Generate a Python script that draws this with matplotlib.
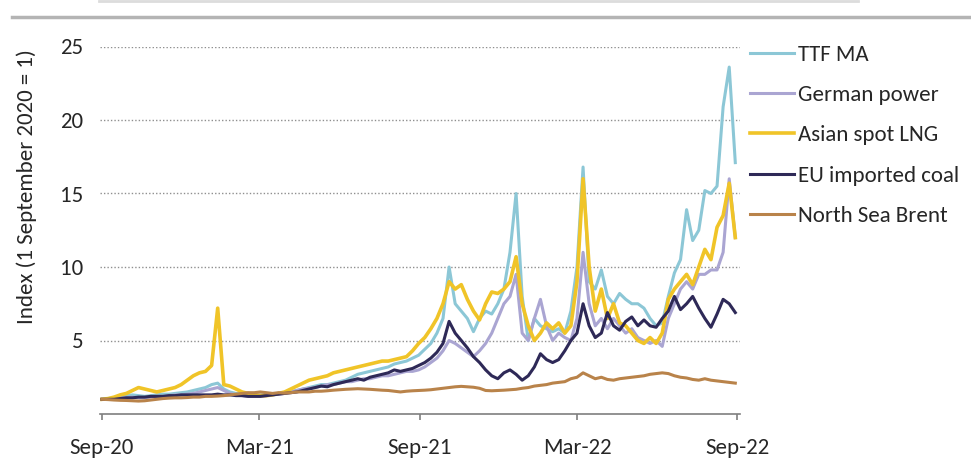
import matplotlib
matplotlib.use('Agg')
import matplotlib.pyplot as plt
import pandas as pd
from matplotlib import font_manager
from matplotlib.lines import Line2D

# ---- data (weekly, index 1 Sep 2020 = 1) ----
weeks = pd.date_range('2020-09-01', periods=105, freq='7D')

ttf_ma = [1.0, 1.05, 1.1, 1.2, 1.25, 1.3, 1.25, 1.2, 1.25, 1.3, 1.35, 1.35, 1.4,
          1.45, 1.5, 1.6, 1.7, 1.8, 2.0, 2.1, 1.7, 1.5, 1.4, 1.35, 1.3, 1.3,
          1.3, 1.3, 1.35, 1.4, 1.45, 1.5, 1.6, 1.7, 1.8, 1.9, 2.0, 2.0, 2.1,
          2.2, 2.3, 2.5, 2.7, 2.8, 2.9, 3.0, 3.1, 3.2, 3.4, 3.5, 3.6, 3.8,
          4.0, 4.4, 4.8, 5.5, 6.5, 10.0, 7.5, 7.0, 6.5, 5.6, 6.5, 7.0, 6.8,
          7.5, 8.5, 11.0, 15.0, 8.0, 5.0, 6.5, 6.0, 5.8, 5.6, 5.8, 5.5, 7.0,
          10.0, 16.8, 9.0, 8.5, 9.8, 8.0, 7.5, 8.2, 7.8, 7.5, 7.5, 7.2, 6.5,
          6.0, 6.2, 8.0, 9.6, 10.5, 13.9, 11.8, 12.5, 15.2, 15.0, 15.5, 20.9, 23.6, 17.1]

german_power = [1.0, 1.0, 1.05, 1.1, 1.1, 1.15, 1.1, 1.1, 1.15, 1.2, 1.2, 1.25, 1.3,
                1.3, 1.35, 1.4, 1.5, 1.6, 1.7, 1.8, 1.6, 1.4, 1.3, 1.25, 1.2, 1.2,
                1.2, 1.25, 1.3, 1.35, 1.4, 1.5, 1.6, 1.7, 1.75, 1.8, 1.9, 2.0, 2.0,
                2.1, 2.2, 2.2, 2.3, 2.4, 2.4, 2.5, 2.6, 2.6, 2.7, 2.8, 2.9, 2.9,
                3.0, 3.2, 3.5, 3.8, 4.3, 5.0, 4.8, 4.5, 4.2, 3.9, 4.3, 4.8, 5.5,
                6.5, 7.5, 8.0, 9.5, 5.5, 5.0, 6.5, 7.8, 6.0, 5.0, 5.5, 5.2, 5.0,
                6.5, 11.0, 7.5, 6.0, 6.5, 5.8, 6.5, 6.0, 5.5, 5.8, 5.2, 5.0, 4.8,
                5.0, 4.6, 6.5, 7.5, 8.5, 9.0, 8.5, 9.5, 9.5, 9.8, 9.8, 11.0, 16.0, 12.0]

asian_lng = [1.0, 1.05, 1.15, 1.3, 1.4, 1.6, 1.8, 1.7, 1.6, 1.5, 1.6, 1.7, 1.8,
             2.0, 2.3, 2.6, 2.8, 2.9, 3.3, 7.2,
             2.0, 1.9, 1.7, 1.5, 1.4, 1.3,
             1.25, 1.25, 1.3, 1.4, 1.5, 1.7, 1.9, 2.1, 2.3, 2.4, 2.5, 2.6, 2.8,
             2.9, 3.0, 3.1, 3.2, 3.3, 3.4, 3.5, 3.6, 3.6, 3.7, 3.8, 3.9, 4.3,
             4.8, 5.2, 5.8, 6.5, 7.5, 9.0, 8.5, 8.8, 7.8, 7.0, 6.4, 7.5, 8.3,
             8.2, 8.5, 9.0, 10.7, 7.5, 6.0, 5.0, 5.5, 6.2, 5.8, 6.2, 5.5, 6.0,
             9.0, 16.0, 10.0, 7.0, 8.5, 6.5, 7.5, 6.2, 6.0, 5.5, 5.0, 4.8, 5.2,
             4.8, 5.5, 7.8, 8.5, 9.0, 9.5, 8.8, 10.0, 11.2, 10.5, 12.7, 13.5, 15.7, 12.0]

eu_coal = [1.0, 1.0, 1.0, 1.05, 1.1, 1.1, 1.15, 1.15, 1.2, 1.2, 1.2, 1.25, 1.25,
           1.3, 1.3, 1.3, 1.3, 1.3, 1.3, 1.35, 1.3, 1.3, 1.25, 1.25, 1.2, 1.2,
           1.2, 1.25, 1.3, 1.35, 1.4, 1.45, 1.5, 1.6, 1.7, 1.8, 1.9, 1.85, 2.0,
           2.1, 2.2, 2.3, 2.4, 2.3, 2.5, 2.6, 2.7, 2.8, 3.0, 2.9, 3.0, 3.1,
           3.3, 3.5, 3.8, 4.2, 4.8, 6.3, 5.5, 5.0, 4.5, 3.9, 3.5, 3.0, 2.6,
           2.4, 2.8, 3.0, 2.7, 2.3, 2.6, 3.2, 4.1, 3.7, 3.5, 3.7, 4.3, 5.0,
           5.5, 7.5, 6.0, 5.2, 5.5, 6.9, 6.0, 5.7, 6.3, 6.6, 6.0, 6.4, 6.0,
           5.9, 6.5, 7.0, 8.0, 7.1, 7.5, 8.0, 7.2, 6.5, 5.9, 6.8, 7.8, 7.5, 6.9]

brent = [1.0, 0.98, 0.95, 0.93, 0.92, 0.9, 0.88, 0.9, 0.95, 1.0, 1.05, 1.08, 1.1,
         1.1, 1.12, 1.15, 1.15, 1.2, 1.2, 1.22, 1.25, 1.3, 1.35, 1.4, 1.45, 1.45,
         1.5, 1.45, 1.4, 1.45, 1.42, 1.45, 1.5, 1.5, 1.5, 1.55, 1.55, 1.58, 1.62,
         1.65, 1.68, 1.7, 1.72, 1.7, 1.68, 1.65, 1.62, 1.6, 1.55, 1.5, 1.55, 1.58,
         1.6, 1.62, 1.65, 1.7, 1.75, 1.8, 1.85, 1.88, 1.85, 1.82, 1.75, 1.6, 1.58,
         1.6, 1.62, 1.65, 1.68, 1.75, 1.8, 1.9, 1.95, 2.0, 2.1, 2.15, 2.2, 2.4,
         2.5, 2.8, 2.6, 2.4, 2.5, 2.35, 2.3, 2.4, 2.45, 2.5, 2.55, 2.6, 2.7,
         2.75, 2.8, 2.75, 2.6, 2.5, 2.45, 2.35, 2.3, 2.4, 2.3, 2.25, 2.2, 2.15, 2.1]

tick_dates = pd.to_datetime(['2020-09-01', '2021-03-01', '2021-09-01', '2022-03-01', '2022-09-01'])
tick_labels = ['Sep-20', 'Mar-21', 'Sep-21', 'Mar-22', 'Sep-22']
y_ticks = [5, 10, 15, 20, 25]

# ---- style ----
names = {f.name for f in font_manager.fontManager.ttflist}
plt.rcParams['font.family'] = 'Carlito' if 'Carlito' in names else 'Lato'
txt = '#262626'
fs = 16.5

fig = plt.figure(figsize=(9.71, 4.59), dpi=100)
ax = fig.add_axes([100 / 971, 45 / 459, 640 / 971, 367.5 / 459])

ax.plot(weeks, ttf_ma, color='#8cc7d6', lw=2.2, label='TTF MA')
ax.plot(weeks, german_power, color='#aaa5d2', lw=2.2, label='German power')
ax.plot(weeks, asian_lng, color='#f0c428', lw=2.6, label='Asian spot LNG')
ax.plot(weeks, eu_coal, color='#2e2957', lw=2.2, label='EU imported coal')
ax.plot(weeks, brent, color='#b9834a', lw=2.2, label='North Sea Brent')

ax.set_ylim(0, 25)
ax.set_xlim(pd.Timestamp('2020-09-01') - pd.Timedelta(days=2.3),
            pd.Timestamp('2022-09-01') + pd.Timedelta(days=3.4))
ax.set_yticks(y_ticks)
ax.set_xticks(tick_dates)
ax.set_xticklabels(tick_labels)
ax.tick_params(axis='y', length=0, pad=12, labelsize=fs, labelcolor=txt)
ax.tick_params(axis='x', length=4.5, width=1.2, color='#7f7f7f', pad=13,
               labelsize=fs, labelcolor=txt, direction='out')
ax.yaxis.grid(True, linestyle=(0, (1, 1.5)), color='#8f8f8f', lw=1.0)
ax.set_axisbelow(True)
for s in ['top', 'right', 'left']:
    ax.spines[s].set_visible(False)
ax.spines['bottom'].set_color('#7f7f7f')
ax.spines['bottom'].set_linewidth(1.2)

fig.text(27 / 971, 1 - 187 / 459, 'Index (1 September 2020 = 1)', rotation=90,
         ha='center', va='center', fontsize=fs, color=txt)

ax.legend(loc='upper left', bbox_to_anchor=(750 / 971, 1 - 45 / 459),
          bbox_transform=fig.transFigure, frameon=False, fontsize=fs,
          handlelength=1.9, handletextpad=0.2, labelspacing=0.88,
          borderpad=0, borderaxespad=0, labelcolor=txt)

# light rules at the top, left over from the page layout
fig.add_artist(Line2D([12 / 971, 969 / 971], [1 - 17 / 459, 1 - 17 / 459],
                      color='#b4b4b4', lw=2.5, transform=fig.transFigure))
fig.add_artist(Line2D([99 / 971, 858 / 971], [1 - 1 / 459, 1 - 1 / 459],
                      color='#dcdcdc', lw=2.0, transform=fig.transFigure))

fig.savefig('out.png', dpi=100)
